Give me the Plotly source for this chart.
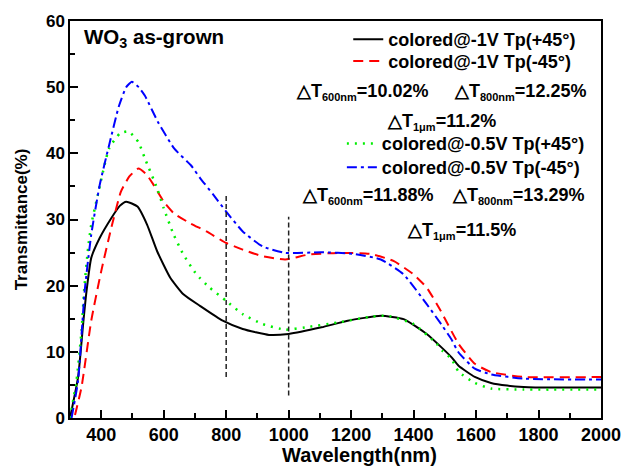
import plotly.graph_objects as go

# ---- data ----
black_x = [300, 326, 342, 353, 368, 395, 432, 460, 480, 516, 547, 579, 621, 663, 716, 789, 853, 937, 1000,
           1105, 1189, 1295, 1368, 1442, 1491, 1521, 1544, 1596, 1648, 1700, 1752, 1850, 2000]
black_y = [0, 6.2, 14.2, 19.2, 24.2, 27.2, 30.2, 32.1, 32.7, 31.95, 29.2, 25.2, 21.2, 18.7, 16.95, 14.7, 13.45, 12.55, 12.7,
           13.7, 14.7, 15.45, 14.95, 12.7, 10.6, 9.2, 7.9, 6.2, 5.3, 4.9, 4.7, 4.6, 4.6]

red_x = [316, 337, 368, 400, 432, 463, 490, 519, 545, 568, 600, 632, 684, 737, 800, 853, 916, 989,
         1063, 1158, 1263, 1337, 1400, 1442, 1484, 1544, 1596, 1648, 1752, 2000]
red_y = [0.45, 4.7, 14.7, 22.2, 28.7, 34.2, 36.5, 37.7, 36.8, 35.2, 32.7, 30.95, 29.45, 28.2, 26.45, 25.45, 24.45, 23.95,
         24.7, 24.95, 24.8, 23.7, 21.7, 19.7, 16.45, 11.2, 8.2, 6.95, 6.2, 6.2]

green_x = [300, 321, 337, 345, 358, 368, 389, 425, 460, 488, 519, 540, 579, 600, 632, 663, 705, 747, 800, 853, 916, 989,
           1053, 1158, 1263, 1316, 1400, 1474, 1491, 1521, 1544, 1596, 1648, 1752, 2000]
green_y = [0, 5.7, 13.2, 19.2, 25.7, 29.2, 33.7, 40.7, 43.0, 43.3, 41.7, 39.2, 34.7, 31.7, 27.7, 24.7, 21.7, 19.7, 17.7, 15.7, 14.2, 13.35,
           13.7, 14.45, 15.3, 15.45, 14.2, 11.2, 10.2, 8.95, 7.0, 5.3, 4.45, 4.3, 4.3]

blue_x = [305, 326, 347, 368, 395, 425, 457, 480, 498, 520, 540, 582, 634, 687, 716, 758, 800, 853, 916, 989,
          1105, 1210, 1295, 1368, 1442, 1491, 1521, 1544, 1596, 1648, 1752, 2000]
blue_y = [0, 5.7, 19.2, 27.7, 35.2, 41.2, 47.2, 50.0, 50.8, 50.0, 48.7, 44.7, 40.7, 38.2, 36.3, 33.8, 31.2, 28.2, 25.95, 24.95,
          25.05, 24.8, 23.95, 21.7, 17.2, 14.0, 11.9, 9.9, 7.45, 6.6, 5.95, 5.8]

series_names = ["colored@-1V Tp(+45°)", "colored@-1V Tp(-45°)",
                "colored@-0.5V Tp(+45°)", "colored@-0.5V Tp(-45°)"]

marker_x = [800, 1000]
marker_y0 = [6.2, 3.4]
marker_y1 = [33.7, 30.4]

x_ticks = [400, 600, 800, 1000, 1200, 1400, 1600, 1800, 2000]
y_ticks = [0, 10, 20, 30, 40, 50, 60]

FONT = "Liberation Sans, Arial, sans-serif"

fig = go.Figure()
fig.add_trace(go.Scatter(x=black_x, y=black_y, mode="lines", name=series_names[0],
                         line=dict(color="black", width=2, shape="spline", smoothing=0.5), legend="legend"))
fig.add_trace(go.Scatter(x=red_x, y=red_y, mode="lines", name=series_names[1],
                         line=dict(color="#ff0000", width=2, dash="10px,6px", shape="spline", smoothing=0.5), legend="legend2"))
fig.add_trace(go.Scatter(x=green_x, y=green_y, mode="lines", name=series_names[2],
                         line=dict(color="#00ee00", width=2.5, dash="2px,6px", shape="spline", smoothing=0.5), legend="legend3"))
fig.add_trace(go.Scatter(x=blue_x, y=blue_y, mode="lines", name=series_names[3],
                         line=dict(color="#0000ff", width=2, dash="10px,4px,3px,4px", shape="spline", smoothing=0.5), legend="legend4"))

for mx, a, b in zip(marker_x, marker_y0, marker_y1):
    fig.add_trace(go.Scatter(x=[mx, mx], y=[a, b], mode="lines", showlegend=False,
                             line=dict(color="#222222", width=1.5, dash="5px,3px"), hoverinfo="skip"))

legend_font = dict(family=FONT, size=18, color="black", weight="bold")

ann_font = dict(family=FONT, size=18, color="black", weight="bold")


def dt(sub, val):
    return "△T<sub><span style='font-size:11px'>" + sub + "</span></sub>=" + val


annotations = [
    dict(x=0.022, y=0.957, xref="paper", yref="paper", xanchor="left", yanchor="middle",
         text="WO<sub>3</sub> as-grown", showarrow=False,
         font=dict(family=FONT, size=20.5, color="black", weight="bold")),
    dict(x=1235, y=49.2, text=dt("600nm", "10.02%"), showarrow=False, font=ann_font),
    dict(x=1742, y=49.2, text=dt("800nm", "12.25%"), showarrow=False, font=ann_font),
    dict(x=1488, y=44.7, text=dt("1μm", "11.2%"), showarrow=False, font=ann_font),
    dict(x=1253, y=33.6, text=dt("600nm", "11.88%"), showarrow=False, font=ann_font),
    dict(x=1733, y=33.6, text=dt("800nm", "13.29%"), showarrow=False, font=ann_font),
    dict(x=1554, y=28.3, text=dt("1μm", "11.5%"), showarrow=False, font=ann_font),
    dict(x=0.546, y=-0.0925, xref="paper", yref="paper", xanchor="center", yanchor="middle",
         text="Wavelength(nm)", showarrow=False,
         font=dict(family=FONT, size=20, color="black", weight="bold")),
]

axis_common = dict(showline=True, linecolor="black", linewidth=1.5, mirror=True,
                   ticks="inside", ticklen=8, tickwidth=1.5, tickcolor="black",
                   showgrid=False, zeroline=False)


def leg(x, y):
    return dict(x=x, y=y, xanchor="left", yanchor="top", font=legend_font,
                bgcolor="rgba(0,0,0,0)", tracegroupgap=0)


fig.update_layout(
    width=633, height=467,
    margin=dict(l=70, r=21, t=18, b=49),
    paper_bgcolor="white", plot_bgcolor="white",
    showlegend=True,
    legend=leg(0.524, 1.0),
    legend2=leg(0.524, 0.945),
    legend3=leg(0.512, 0.7375),
    legend4=leg(0.512, 0.6775),
    annotations=annotations,
    xaxis=dict(range=[300, 2000], tickvals=x_ticks,
               tickfont=dict(family=FONT, size=18, color="black", weight="bold"),
               minor=dict(dtick=100, tick0=300, ticks="inside", ticklen=5, tickwidth=1.5, tickcolor="black"),
               **axis_common),
    yaxis=dict(range=[0, 60], tickvals=y_ticks,
               tickfont=dict(family=FONT, size=17, color="black", weight="bold"),
               minor=dict(dtick=5, tick0=0, ticks="inside", ticklen=5, tickwidth=1.5, tickcolor="black"),
               title=dict(text="Transmittance(%)", font=dict(family=FONT, size=17, color="black", weight="bold"),
                          standoff=14),
               **axis_common),
)

fig.write_html("out.html")
